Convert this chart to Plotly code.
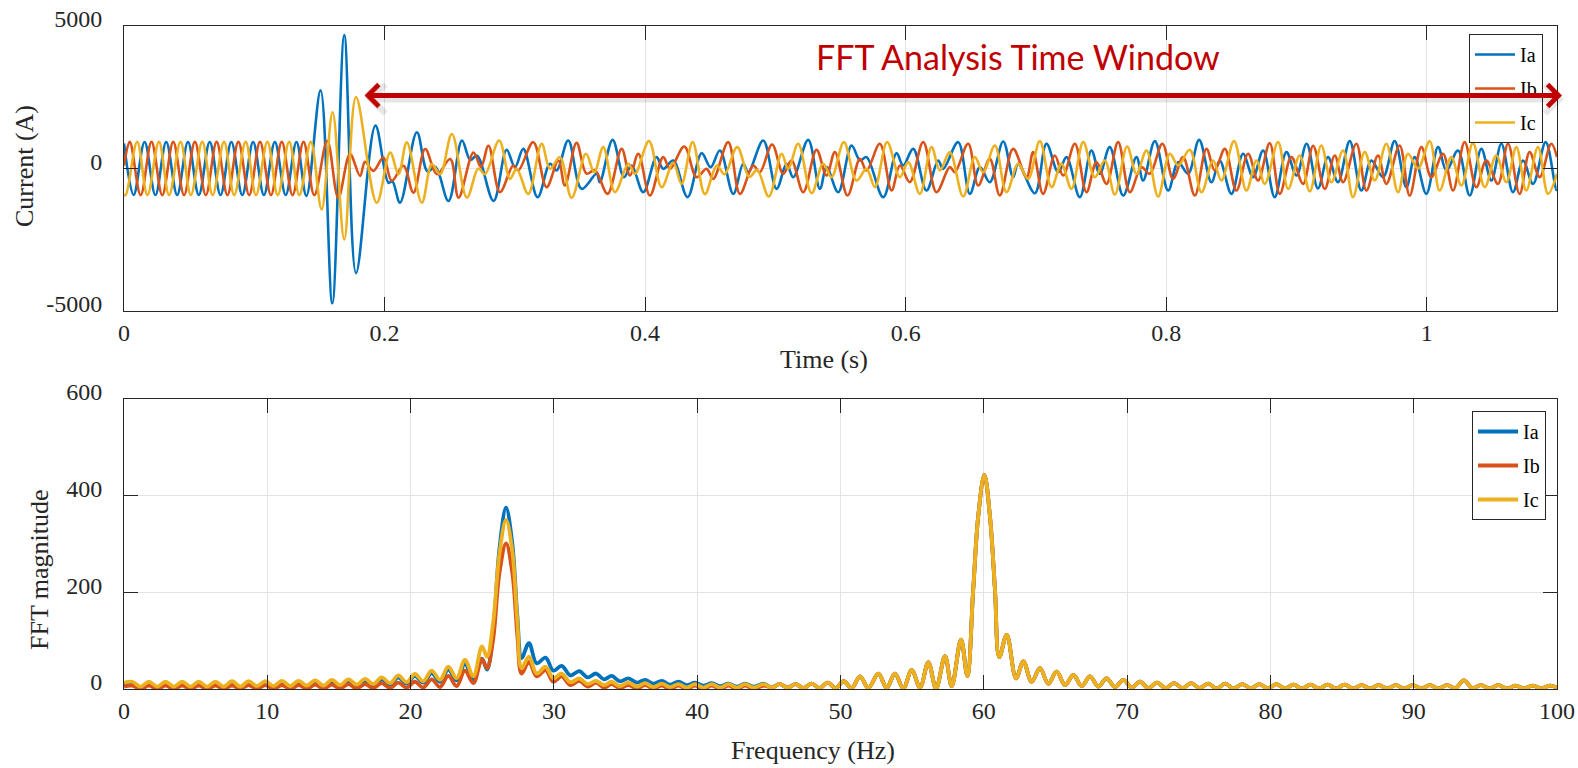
import plotly.graph_objects as go

# ---------------- time-domain data (extrema) ----------------
IA_T_MS = [0, 7.4, 15.8, 24.1, 32.4, 40.8, 49.1, 57.4, 65.8, 74.1, 82.4, 90.8, 99.1, 107.4, 115.8, 124.1, 132.4, 140.0,
           150.9, 159.9, 169.1, 178.1, 193.0, 203.0, 206.0, 211.9, 224.8, 233.0, 239.0, 249.1, 259.4, 265.8, 271.0, 283.7,
           293.7, 300.1, 306.5, 317.5, 327.0, 332.1, 341.0, 351.3, 362.8, 365.3, 375.1, 383.8, 389.6, 398.6, 408.8, 413.9,
           421.6, 432.6, 443.4, 450.3, 457.4, 467.7, 475.3, 479.2, 490.7, 500.9,
           508.6, 513.7, 525.2, 534.2, 539.3, 548.2, 558.5, 565.0, 570.0, 582.8, 593.0, 598.1, 605.8, 616.0, 625.0, 628.8,
           640.3, 649.3, 657.0, 664.6, 674.9, 682.5, 686.4, 699.2,
           708.1, 717.1, 723.5, 733.7, 742.6, 749.0, 756.7, 767.0, 777.2, 782.3, 791.3, 801.5, 809.2, 816.8, 825.3, 834.7,
           841.1, 850.1, 859.0, 866.7, 874.4, 883.3, 892.3, 900.0, 907.8,
           916.5, 924.2, 931.9, 940.9, 949.8, 957.5, 966.5, 975.4, 984.4, 990.8, 999.7, 1008.7, 1015.1, 1024.0, 1033.0,
           1041.9, 1049.6, 1057.3, 1066.2, 1073.9, 1081.6, 1091.3, 1099.5, 1100.0]
IA_A = [880, -930, 930, -930, 930, -930, 930, -930, 930, -930, 930, -930, 930, -930, 930, -930, 930, -960,
        2740, -4730, 4680, -3670, 1505, -500, -450, -1200, 1270, -100, 50, -1140, 980, 300, 450, -1140,
        655, 47, 690, -1006, 164, -70, 983, -714, -187, -480, 1006, -304, 105, -831, 398, -12,
        281, -1006, 538, 47, 632, -889, 164, -129, 983, -714,
        164, -304, 1006, -714, 47, -831, 807, 280, 398, -1006, 538, 105, 690, -772, 281, -12,
        924, -889, 47, -480, 948, -304, 164, -866,
        866, -129, 398, -1006, 632, -187, 749, -948, 398, -421, 959, -772, 222, -187, 1006, -480,
        281, -889, 515, -304, 632, -1006, 573, -246, 866,
        -700, 398, -480, 959, -772, 281, -304, 959, -655, 398, -889, 749, -70, 632, -948,
        690, -421, 866, -831, 281, -538, 924, -750, -740]

IB_T_MS = [0, 4.4, 12.8, 21.1, 29.4, 37.8, 46.1, 54.4, 62.8, 71.1, 79.4, 87.8, 96.1, 104.4, 112.8, 121.1, 129.4, 137.8, 146.1,
           156.0, 164.5, 173.5, 181.2, 185.0, 191.4, 199.1, 205.6, 214.5, 222.2, 231.2, 240.2, 250.4, 256.8, 268.3, 274.0,
           279.8, 288.6,
           298.8, 302.7, 314.2, 324.4, 333.4, 338.5, 347.4, 355.0, 361.5, 371.2, 382.0, 388.4, 394.8, 403.7, 413.9, 419.1,
           430.1, 439.5, 447.2, 452.3, 463.8, 472.8, 483.0, 488.1, 497.5,
           506.0, 512.4, 521.4, 531.6, 539.3, 545.7, 555.4, 564.9, 570.0, 580.2, 589.2, 595.6, 603.2, 613.5, 623.7, 633.9,
           637.8, 648.0, 655.7, 664.6, 672.3, 682.5, 692.8, 697.9, 705.5,
           714.5, 720.9, 729.9, 738.8, 746.5, 754.2, 763.1, 772.1, 781.0, 787.4, 797.1, 805.3, 813.0, 822.0, 830.9, 837.3,
           845.0, 853.9, 862.9, 870.5, 879.5, 887.2, 896.1, 905.1, 912.8,
           921.7, 929.4, 935.8, 946.0, 953.7, 962.6, 969.0, 979.2, 986.9, 995.9, 1003.5, 1012.5, 1020.2, 1029.1, 1038.1,
           1045.7, 1054.7, 1062.4, 1071.3, 1079.0, 1086.7, 1095.6, 1100.0]
IB_A = [100, 935, -935, 935, -935, 935, -935, 935, -935, 935, -935, 935, -935, 935, -935, 935, -935, 935, -935,
        976, -1023, 505, -259, 235, -82, 388, -435, 94, -847, 682, -200, 330, -1023, 564, 50,
        800, -831,
        105, -70, 924, -655, 281, -597, 900, -180, -60, -889, 690, -246, 515, -948, 398, -12,
        772, -304, -12, -363, 924, -889, 105, -129, 840,
        -187, 281, -831, 655, -246, 573, -948, 339, -70, 866, -772, 105, -480, 924, -831, 47,
        -129, 866, -597, 339, -948, 690, -304, 573, -889,
        456, -246, 866, -831, 222, -538, 924, -831, 47, -187, 866, -363, 398, -948, 690, -70,
        690, -772, 515, -421, 889, -889, 398, -538, 800,
        -714, 456, -480, 866, -772, 456, -538, 807, -948, 749, -304, 515, -772, 924, -655,
        281, -538, 866, -889, 573, -304, 866, 400]

IC_T_MS = [0, 1.3, 10.1, 18.0, 26.8, 34.6, 43.4, 51.3, 60.1, 68.0, 76.8, 84.6, 93.4, 101.3, 110.1, 118.0, 126.8, 134.6, 143.4,
           151.7, 160.1, 169.1, 178.1, 194.0, 204.3, 210.7, 217.1, 228.6, 236.3, 242.7, 251.7, 263.2, 272.0, 277.0, 288.0,
           296.3, 301.4, 310.3, 320.6, 327.0, 334.6, 343.6, 354.6, 361.0, 367.9, 376.9, 387.1, 392.2, 403.0, 412.7, 421.6,
           428.0, 436.5, 445.9, 455.0, 461.0, 470.7, 480.0, 486.0, 495.0,
           504.8, 509.9, 517.5, 527.8, 536.7, 543.1, 552.6, 562.3, 570.0, 576.4, 585.8, 595.6, 602.0, 610.9, 619.9, 626.3,
           633.9, 644.2, 653.1, 659.5, 668.5, 677.4, 686.4, 694.0, 703.0,
           712.0, 719.6, 727.3, 736.3, 745.2, 752.9, 760.6, 770.0, 777.2, 784.9, 793.8, 802.8, 809.2, 818.1, 827.1, 836.0,
           842.4, 852.1, 861.6, 869.3, 875.7, 885.9, 893.6, 902.5, 910.2,
           919.1, 926.8, 935.8, 943.4, 952.4, 960.1, 969.0, 978.0, 985.6, 993.3, 1002.3, 1009.9, 1018.9, 1026.6, 1035.5,
           1044.5, 1053.4, 1061.1, 1068.8, 1076.4, 1085.4, 1093.1, 1100.0]
IC_A = [-915, -935, 935, -935, 935, -935, 935, -935, 935, -935, 935, -935, 935, -935, 935, -935, 935, -935, 935,
        -1435, 1976, -2493, 2505, -1200, 564, -200, 917, -1200, 153, -200, 1211, -1023, 0, -200, 983,
        -363, -12, -889, 866, -12, 398, -1030, 515, -130, 749, -831, 164, -187, 959, -655, 200,
        -540, 924, -900, 100, -200, 749, -300, -50, -983,
        515, -12, 866, -866, 164, -304, 924, -421, -12, -655, 924, -304, 222, -889, 749, -70,
        573, -983, 398, -129, 807, -831, 164, -363, 959,
        -655, 164, -714, 924, -304, 281, -913, 772, -187, 632, -983, 515, 105, 655, -831, 281,
        -421, 959, -772, 281, -538, 924, -714, 456, -800,
        807, -480, 632, -1006, 573, -421, 866, -831, 515, 0, 959, -772, 398, -597, 889,
        -655, 456, -480, 749, -772, 749, -889, -187]

TIME_TICKS = [0, 0.2, 0.4, 0.6, 0.8, 1.0]
TIME_TICK_TEXT = ["0", "0.2", "0.4", "0.6", "0.8", "1"]
CURRENT_TICKS = [-5000, 0, 5000]

# ---------------- FFT data (lobe extrema) ----------------
FREQ_HEAD = [0.0, 0.58, 1.16, 1.74, 2.32, 2.90, 3.48, 4.06, 4.64, 5.22, 5.80, 6.38, 6.96, 7.54, 8.12, 8.70, 9.28,
             9.86, 10.44, 11.02, 11.60, 12.18, 12.76, 13.34, 13.92, 14.50, 15.08, 15.66, 16.24, 16.82, 17.40,
             17.98, 18.56, 19.14, 19.72, 20.30, 20.88, 21.47, 22.05, 22.63, 23.21, 23.79, 24.38, 24.98,
             25.33, 25.75, 26.20, 26.66, 27.10, 27.45, 27.75,
             28.26, 28.80, 29.42, 29.96, 30.54, 31.15, 31.77, 32.35, 32.94, 33.50, 34.03, 34.60, 35.20, 35.80,
             36.36, 36.95, 37.53, 38.10, 38.69, 39.27, 39.85, 40.43, 41.02, 41.60, 42.18, 42.77, 43.35, 43.95, 44.63]
IA_FFT_HEAD = [10, 11, 3, 11, 3, 11, 3, 11, 3, 12, 3, 12, 3, 12, 4, 12, 4, 13, 4, 13, 4, 14, 5, 14, 5, 15, 6, 16, 6, 17, 7,
               20, 9, 24, 11, 27, 13, 33, 15, 40, 18, 52, 20, 63,
               40, 115, 290, 375, 300, 150, 64,
               95, 53, 65, 38, 48, 28, 37, 24, 32, 20, 27, 16, 22, 13, 19, 11, 17, 9, 15, 8, 13, 7, 12, 6, 11, 5, 11, 5, 11]
IB_FFT_HEAD = [5, 7, 0, 7, 0, 7, 0, 7, 0, 7, 0, 7, 0, 7, 0, 8, 0, 8, 0, 8, 0, 8, 1, 9, 1, 9, 1, 10, 1, 10, 2,
               12, 2, 13, 3, 15, 3, 20, 4, 27, 6, 38, 12, 62,
               43, 100, 240, 301, 240, 110, 32,
               56, 26, 39, 15, 26, 8, 17, 5, 13, 3, 10, 2, 8, 1, 8, 1, 7, 0, 7, 0, 7, 0, 7, 0, 7, 0, 7, 0, 7]
IC_FFT_HEAD = [13, 15, 5, 15, 5, 15, 5, 15, 5, 15, 5, 15, 5, 16, 5, 16, 6, 16, 6, 17, 6, 17, 7, 18, 7, 19, 8, 20, 9, 21, 10,
               24, 12, 28, 14, 31, 16, 38, 19, 46, 22, 60, 26, 88,
               67, 135, 280, 350, 285, 140, 43,
               67, 32, 46, 22, 32, 14, 22, 10, 17, 8, 15, 6, 13, 5, 12, 4, 11, 4, 10, 3, 10, 3, 10, 3, 10, 3, 10, 3, 10]
FREQ_TAIL = [45.19, 45.75, 46.31, 46.87, 47.42, 47.98, 48.54, 49.10, 49.66, 50.22, 50.78,
             51.36, 51.94, 52.64, 53.22, 53.80, 54.38, 54.97, 55.55, 56.13, 56.67, 57.29, 57.76, 58.41, 58.85,
             59.26, 59.61, 60.04, 60.43, 60.78,
             61.08, 61.60, 62.25, 62.76, 63.34, 63.92, 64.50, 65.08, 65.67, 66.25, 66.83, 67.41, 67.99, 68.57, 69.16,
             69.74, 70.32, 70.90,
             71.49, 72.09, 72.68, 73.28, 73.87, 74.47, 75.06, 75.66, 76.25, 76.85, 77.44, 78.04, 78.63, 79.23, 79.82,
             80.42, 81.01, 81.61, 82.20, 82.80, 83.39, 83.99, 84.58, 85.18, 85.77, 86.37, 86.96, 87.56, 88.15, 88.75,
             89.34, 89.94, 90.53, 91.13, 91.72, 92.32, 92.91, 93.50,
             94.10, 94.70, 95.30, 95.90, 96.50, 97.10, 97.70, 98.30, 98.90, 99.50, 100.0]
FFT_TAIL = [3, 10, 3, 10, 2, 11, 2, 13, 2, 16, 2,
            26, 2, 32, 2, 32, 1, 39, 3, 55, 1, 68, 6, 102, 27,
            205, 357, 443, 357, 205,
            66, 112, 22, 57, 15, 43, 11, 36, 8, 29, 6, 26, 5, 22, 4, 19, 3, 15,
            2, 13, 2, 12, 2, 12, 2, 11, 1, 11, 1, 10, 1, 10, 1, 10, 1, 9, 1, 9, 1, 9, 1, 9, 1, 8, 1, 8, 1, 8,
            1, 8, 1, 8, 1, 8, 2, 18,
            2, 8, 1, 8, 1, 7, 1, 7, 1, 7, 3]

FREQ_TICKS = [0, 10, 20, 30, 40, 50, 60, 70, 80, 90, 100]
FFT_TICKS = [0, 200, 400, 600]

NAMES = ["Ia", "Ib", "Ic"]
COLORS = ["#0072BD", "#D95319", "#EDB120"]

# ---------------- layout geometry (pixels of the 1578x768 page) ----------------
W, H = 1578, 768
L, R, T, B = 124, 1557, 26, 689


def px_x(x):
    return (x - L) / (R - L)


def px_y(y):
    return (B - y) / (B - T)


SERIF = "Liberation Serif, Times New Roman, serif"
AX = "#262626"
GRID = "#e3e3e3"

fig = go.Figure()

time_series = [(IA_T_MS, IA_A), (IB_T_MS, IB_A), (IC_T_MS, IC_A)]
for name, color, (t_ms, amps) in zip(NAMES, COLORS, time_series):
    fig.add_trace(go.Scatter(
        x=[v / 1000.0 for v in t_ms], y=amps, name=name, mode="lines",
        line=dict(color=color, width=2.6, shape="spline", smoothing=1.0),
        xaxis="x", yaxis="y", legend="legend", legendgroup="t_" + name, hoverinfo="skip"))

fft_heads = [IA_FFT_HEAD, IB_FFT_HEAD, IC_FFT_HEAD]
for name, color, head in zip(NAMES, COLORS, fft_heads):
    fig.add_trace(go.Scatter(
        x=FREQ_HEAD + FREQ_TAIL, y=head + FFT_TAIL, name=name, mode="lines",
        line=dict(color=color, width=3.8, shape="spline", smoothing=1.0),
        xaxis="x2", yaxis="y2", legend="legend2", legendgroup="f_" + name, hoverinfo="skip"))

common_axis = dict(showline=True, linecolor=AX, linewidth=1, mirror="allticks",
                   ticks="inside", ticklen=14, tickcolor=AX, tickwidth=1,
                   showgrid=True, gridcolor=GRID, gridwidth=1, zeroline=False,
                   tickfont=dict(family=SERIF, size=24, color="#262626"))

legend_common = dict(bgcolor="white", bordercolor=AX, borderwidth=1,
                     font=dict(family=SERIF, size=20, color="black"), itemwidth=40, tracegroupgap=5)

fig.update_layout(
    width=W, height=H,
    margin=dict(l=L, r=W - R, t=T, b=H - B, pad=0, autoexpand=False),
    paper_bgcolor="white", plot_bgcolor="white",
    showlegend=True,
    xaxis=dict(domain=[0, 1], range=[0, 1.1], anchor="y", tickvals=TIME_TICKS, ticktext=TIME_TICK_TEXT,
               ticklabelstandoff=0, **common_axis),
    yaxis=dict(domain=[px_y(311), 1.0], range=[-5000, 5000], anchor="x", tickvals=CURRENT_TICKS,
               ticktext=["-5000", "0", "5000"], ticklabelstandoff=16, ticklabelshift=-7, **common_axis),
    xaxis2=dict(domain=[0, 1], range=[0, 100], anchor="y2", tickvals=FREQ_TICKS,
                ticklabelstandoff=0, **common_axis),
    yaxis2=dict(domain=[0, px_y(399)], range=[0, 600], anchor="x2", tickvals=FFT_TICKS,
                ticklabelstandoff=16, ticklabelshift=-7, **common_axis),
    legend=dict(x=px_x(1543), xanchor="right", y=px_y(34), yanchor="top", **legend_common),
    legend2=dict(x=px_x(1546), xanchor="right", y=px_y(411), yanchor="top", **legend_common),
)

annotations = [
    # axis titles
    dict(text="Time (s)", x=px_x(824), y=px_y(359), xref="paper", yref="paper", showarrow=False,
         font=dict(family=SERIF, size=26, color="#262626"), xanchor="center", yanchor="middle"),
    dict(text="Frequency (Hz)", x=px_x(813), y=px_y(750), xref="paper", yref="paper", showarrow=False,
         font=dict(family=SERIF, size=26, color="#262626"), xanchor="center", yanchor="middle"),
    dict(text="Current (A)", x=px_x(24), y=px_y(166), xref="paper", yref="paper", showarrow=False,
         textangle=-90, font=dict(family=SERIF, size=26, color="#262626"), xanchor="center", yanchor="middle"),
    dict(text="FFT magnitude", x=px_x(39), y=px_y(570), xref="paper", yref="paper", showarrow=False,
         textangle=-90, font=dict(family=SERIF, size=26, color="#262626"), xanchor="center", yanchor="middle"),
    # arrow shadow
    dict(text="", x=px_x(1564), y=px_y(99), xref="paper", yref="paper", ax=-1199, ay=0,
         axref="pixel", ayref="pixel", showarrow=True, arrowcolor="rgba(0,0,0,0.10)", arrowwidth=7,
         arrowhead=4, startarrowhead=4, arrowside="end+start", arrowsize=0.8, startarrowsize=0.8),
    # time window arrow
    dict(text="", x=px_x(1562), y=px_y(95.5), xref="paper", yref="paper", ax=-1199, ay=0,
         axref="pixel", ayref="pixel", showarrow=True, arrowcolor="#C00000", arrowwidth=5,
         arrowhead=4, startarrowhead=4, arrowside="end+start", arrowsize=0.85, startarrowsize=0.85),
    dict(text="FFT Analysis Time Window", x=px_x(1018), y=px_y(57), xref="paper", yref="paper",
         showarrow=False, font=dict(family="Lato, Open Sans, sans-serif", size=34, color="#C00000"),
         xanchor="center", yanchor="middle"),
]
fig.update_layout(annotations=annotations)

fig.write_html("out.html", config={"displayModeBar": False},
               post_script="document.body.style.margin='0';document.body.style.overflow='hidden';")
